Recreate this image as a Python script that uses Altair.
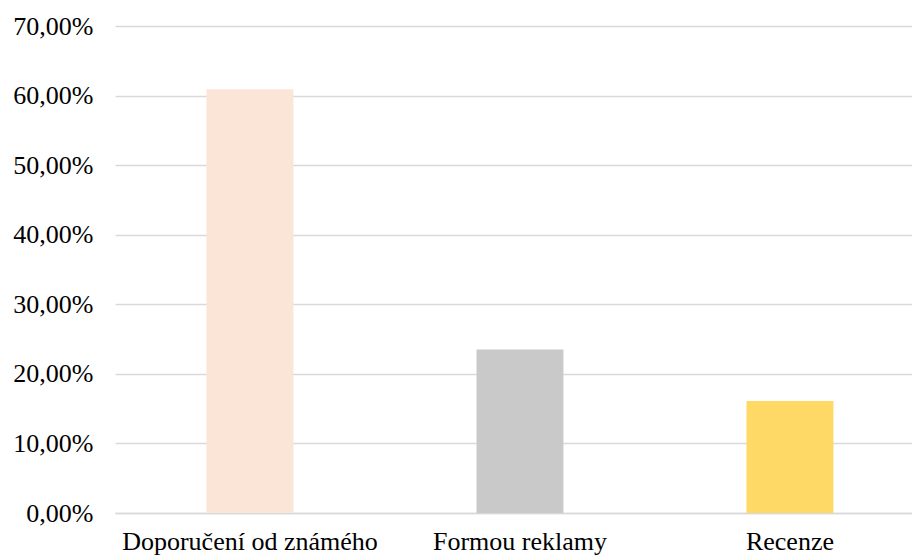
import altair as alt
import pandas as pd

categories = ["Doporučení od známého", "Formou reklamy", "Recenze"]
values = [0.609, 0.235, 0.161]
colors = ["#FBE5D6", "#C9C9C9", "#FFD966"]

df = pd.DataFrame({"cat": categories, "val": values, "color": colors})

font = "Liberation Serif"

chart = alt.Chart(df).mark_bar(cornerRadius=0).encode(
    x=alt.X("cat:N", sort=categories, title=None,
            scale=alt.Scale(paddingInner=0.678, paddingOuter=0.315, align=0.538),
            axis=alt.Axis(labelAngle=0, labelFont=font, labelFontSize=26, labelColor="#000000",
                          labelPadding=15, ticks=False, domain=True, domainColor="#D9D9D9",
                          domainWidth=1.5, grid=False, labelLimit=400)),
    y=alt.Y("val:Q", title=None,
            scale=alt.Scale(domain=[0, 0.7], nice=False),
            axis=alt.Axis(values=[0, 0.1, 0.2, 0.3, 0.4, 0.5, 0.6, 0.7],
                          labelExpr="replace(format(datum.value, '.2%'), '.', ',')",
                          labelFont=font, labelFontSize=26, labelColor="#000000",
                          labelPadding=22, ticks=False, domain=False,
                          grid=True, gridColor="#D9D9D9", gridWidth=1.5)),
    color=alt.Color("color:N", scale=None),
).properties(
    width=797, height=487,
    background="#FFFFFF",
    autosize=alt.AutoSizeParams(type="none"),
    padding={"left": 115, "top": 26, "right": 0, "bottom": 44},
).configure_view(stroke=None).configure_axis(labelFont=font).configure_axisBand(labelFont=font)

chart.save("out.html", embed_options={"renderer": "svg", "actions": False})
